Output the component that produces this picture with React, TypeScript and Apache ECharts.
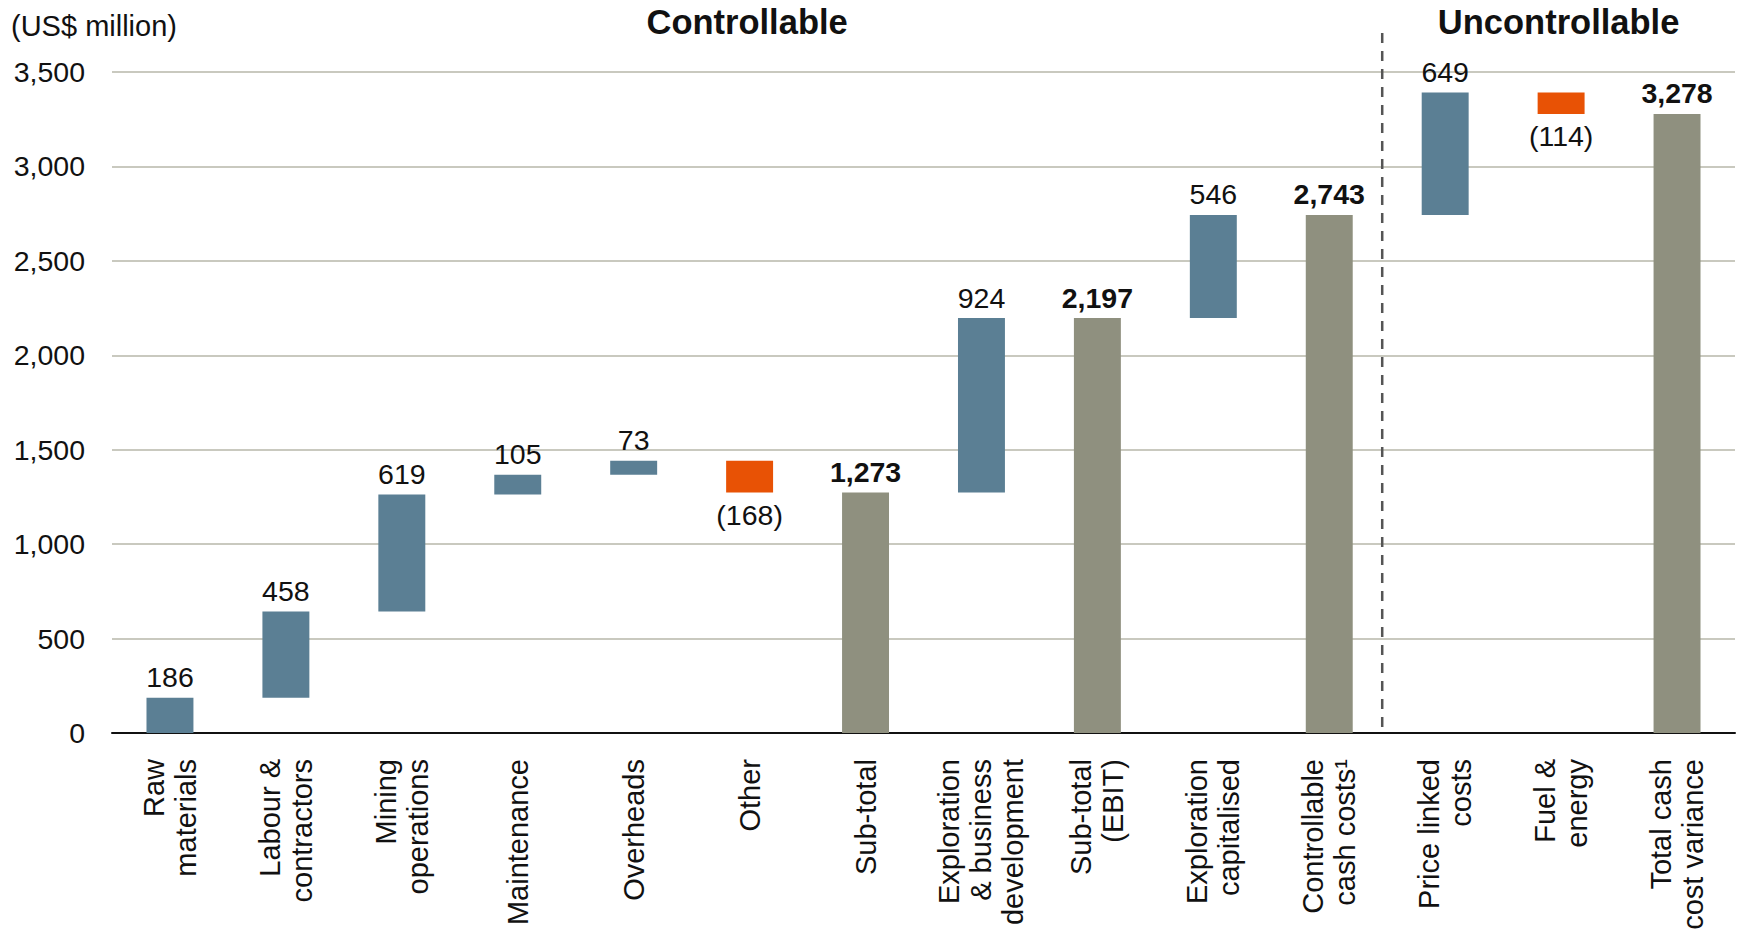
import React, { useEffect, useRef } from "react";
import * as echarts from "echarts";

const categories: string[] = [
  "Raw\nmaterials",
  "Labour &\ncontractors",
  "Mining\noperations",
  "Maintenance",
  "Overheads",
  "Other",
  "Sub-total",
  "Exploration\n& business\ndevelopment",
  "Sub-total\n(EBIT)",
  "Exploration\ncapitalised",
  "Controllable\ncash costs¹",
  "Price linked\ncosts",
  "Fuel &\nenergy",
  "Total cash\ncost variance",
];

const values: number[] = [186, 458, 619, 105, 73, -168, 1273, 924, 2197, 546, 2743, 649, -114, 3278];
const kinds: string[] = ["inc", "inc", "inc", "inc", "inc", "dec", "total", "inc", "total", "inc", "total", "inc", "dec", "total"];

const yTicks = { min: 0, max: 3500, interval: 500 };
const sectionTitles = ["Controllable", "Uncontrollable"];
const unitLabel = "(US$ million)";
const dividerAfterIndex = 10;

const FONT = "'Liberation Sans', Arial, Helvetica, sans-serif";
const BLUE = "#5b7f94";
const ORANGE = "#e85205";
const GREY = "#8f907f";

const fmt = (v: number) => Math.abs(v).toLocaleString("en-US");

export default function App() {
  const ref = useRef<HTMLDivElement>(null);

  useEffect(() => {
    if (!ref.current) return;
    const chart = echarts.init(ref.current, undefined, { renderer: "svg" });

    const base: (number | string)[] = [];
    const inc: (number | string)[] = [];
    const dec: (number | string)[] = [];
    const tot: (number | string)[] = [];
    let running = 0;
    values.forEach((v, i) => {
      const k = kinds[i];
      if (k === "inc") {
        base.push(running);
        inc.push(v);
        dec.push("-");
        tot.push("-");
        running += v;
      } else if (k === "dec") {
        running += v;
        base.push(running);
        inc.push("-");
        dec.push(-v);
        tot.push("-");
      } else {
        base.push(0);
        inc.push("-");
        dec.push("-");
        tot.push(v);
        running = v;
      }
    });

    const labelCommon = {
      show: true,
      fontFamily: FONT,
      fontSize: 28.5,
      color: "#111",
    };

    chart.setOption({
      animation: false,
      textStyle: { fontFamily: FONT },
      grid: { left: 112, right: 2, top: 72, bottom: 199, containLabel: false, outerBoundsMode: "none" },
      xAxis: {
        type: "category",
        data: categories,
        axisLine: { show: true, lineStyle: { color: "#111", width: 2 } },
        axisTick: { show: false },
        axisLabel: {
          rotate: 90,
          margin: 26,
          interval: 0,
          fontFamily: FONT,
          fontSize: 29,
          lineHeight: 32,
          color: "#111",
        },
      },
      yAxis: {
        type: "value",
        min: yTicks.min,
        max: yTicks.max,
        interval: yTicks.interval,
        axisLine: { show: false },
        axisTick: { show: false },
        axisLabel: {
          fontFamily: FONT,
          fontSize: 28.5,
          color: "#111",
          margin: 27,
          formatter: (v: number) => v.toLocaleString("en-US"),
        },
        splitLine: { lineStyle: { color: "#c9c9bf", width: 2 } },
      },
      series: [
        {
          type: "bar",
          stack: "w",
          data: base,
          itemStyle: { color: "transparent" },
          barWidth: "40.5%",
          silent: true,
        },
        {
          type: "bar",
          stack: "w",
          data: inc,
          itemStyle: { color: BLUE },
          label: { ...labelCommon, position: "top", distance: 6, formatter: (p: any) => fmt(p.value) },
        },
        {
          type: "bar",
          stack: "w",
          data: dec,
          itemStyle: { color: ORANGE },
          label: { ...labelCommon, position: "bottom", distance: 8, formatter: (p: any) => "(" + fmt(p.value) + ")" },
        },
        {
          type: "bar",
          stack: "w",
          data: tot,
          itemStyle: { color: GREY },
          label: { ...labelCommon, fontWeight: "bold", position: "top", distance: 6, formatter: (p: any) => fmt(p.value) },
        },
      ],
    });

    const xa = chart.convertToPixel({ xAxisIndex: 0 }, categories[dividerAfterIndex]) as number;
    const xb = chart.convertToPixel({ xAxisIndex: 0 }, categories[dividerAfterIndex + 1]) as number;
    const divX = (xa + xb) / 2 - 5;
    const y0 = chart.convertToPixel({ yAxisIndex: 0 }, 0) as number;
    const yMax = chart.convertToPixel({ yAxisIndex: 0 }, yTicks.max) as number;
    const plotLeft = chart.convertToPixel({ xAxisIndex: 0 }, categories[0]) as number - (xb - xa) / 2;
    const plotRight = chart.convertToPixel({ xAxisIndex: 0 }, categories[categories.length - 1]) as number + (xb - xa) / 2;

    chart.setOption({
      graphic: [
        {
          type: "line",
          shape: { x1: divX, y1: yMax - 39, x2: divX, y2: y0 },
          style: { stroke: "#555", lineWidth: 2.5, lineDash: [10, 8] },
          z: 10,
        },
        {
          type: "text",
          x: (plotLeft + divX) / 2,
          y: 22,
          style: {
            text: sectionTitles[0],
            fontFamily: FONT,
            fontSize: 34.5,
            fontWeight: "bold",
            fill: "#111",
            align: "center",
            verticalAlign: "middle",
          },
        },
        {
          type: "text",
          x: (divX + plotRight) / 2,
          y: 22,
          style: {
            text: sectionTitles[1],
            fontFamily: FONT,
            fontSize: 34.5,
            fontWeight: "bold",
            fill: "#111",
            align: "center",
            verticalAlign: "middle",
          },
        },
        {
          type: "text",
          x: 11,
          y: 26,
          style: {
            text: unitLabel,
            fontFamily: FONT,
            fontSize: 29,
            fill: "#111",
            align: "left",
            verticalAlign: "middle",
          },
        },
      ],
    });

    return () => chart.dispose();
  }, []);

  return (
    <div
      ref={ref}
      style={{ position: "fixed", left: 0, top: 0, width: 1737, height: 932, background: "#fff" }}
    />
  );
}
